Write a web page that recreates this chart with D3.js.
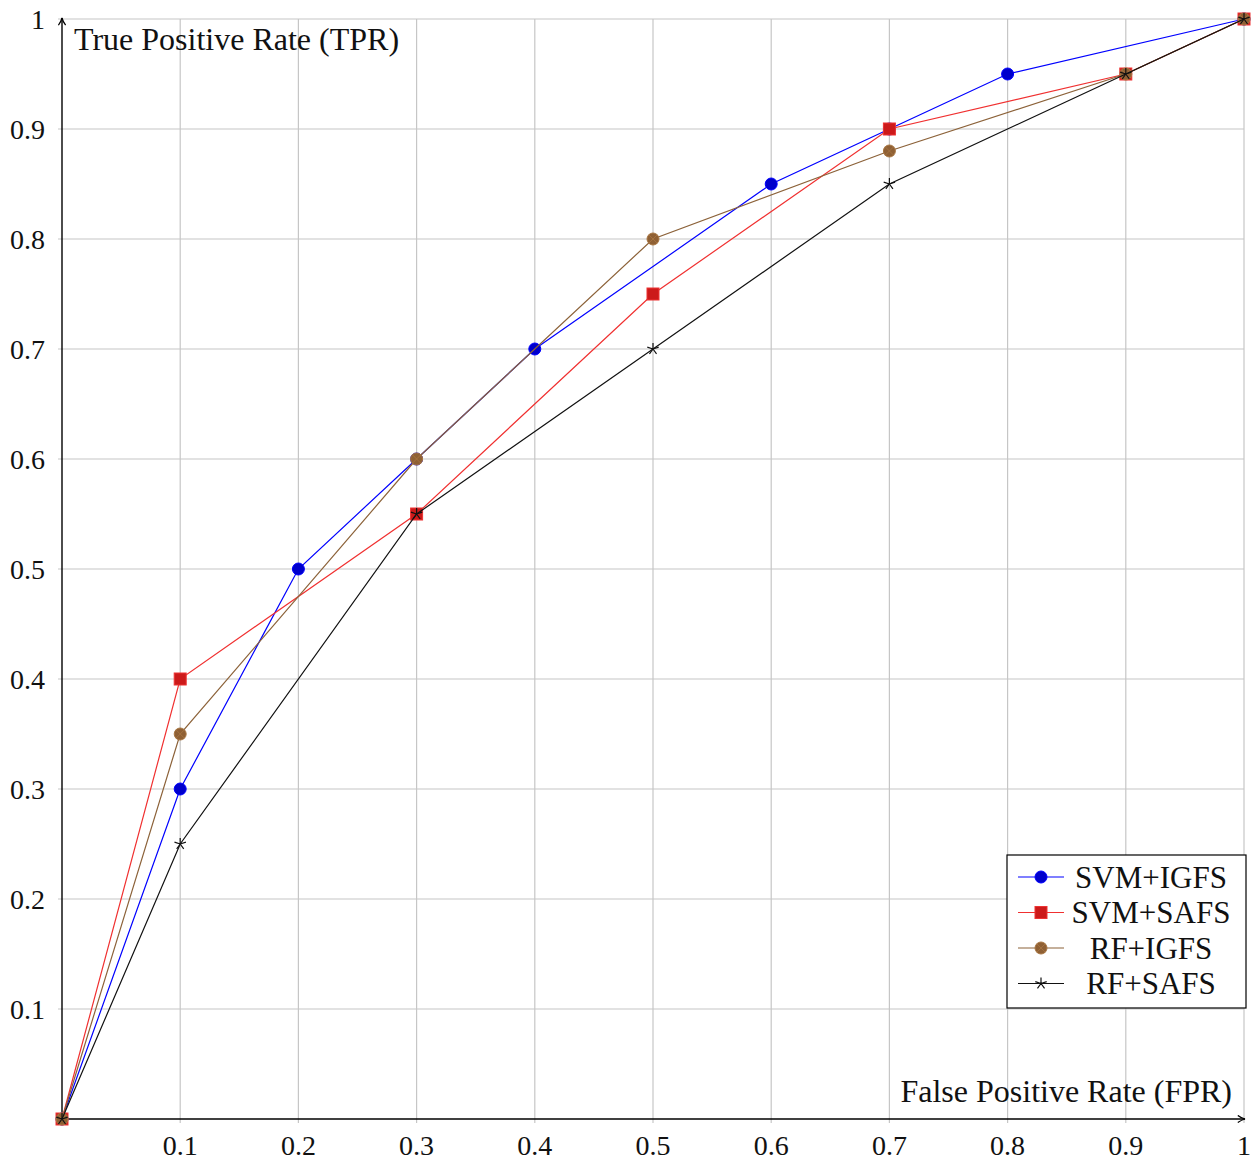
<!DOCTYPE html>
<html>
<style>
body { margin: 0; background: #fff; }
text { font-family: "Liberation Serif", "Times New Roman", serif; fill: #111; }
.grid line { stroke: #c6c6c6; stroke-width: 1.2px; }
</style>
<svg width="1255" height="1160"></svg>
<script src="https://cdn.jsdelivr.net/npm/d3@7"></script>
<script>
var ticks = [0.1, 0.2, 0.3, 0.4, 0.5, 0.6, 0.7, 0.8, 0.9, 1];

var svmIgfsX = [0, 0.1, 0.2, 0.3, 0.4, 0.6, 0.7, 0.8, 1];
var svmIgfsY = [0, 0.3, 0.5, 0.6, 0.7, 0.85, 0.9, 0.95, 1];
var svmSafsX = [0, 0.1, 0.3, 0.5, 0.7, 0.9, 1];
var svmSafsY = [0, 0.4, 0.55, 0.75, 0.9, 0.95, 1];
var rfIgfsX = [0, 0.1, 0.3, 0.5, 0.7, 0.9, 1];
var rfIgfsY = [0, 0.35, 0.6, 0.8, 0.88, 0.95, 1];
var rfSafsX = [0, 0.1, 0.3, 0.5, 0.7, 0.9, 1];
var rfSafsY = [0, 0.25, 0.55, 0.7, 0.85, 0.95, 1];

var series = [
  { name: "SVM+IGFS", xs: svmIgfsX, ys: svmIgfsY, color: "#0000ff", fill: "#0000cc", stroke: "#0000ff", mark: "circle" },
  { name: "SVM+SAFS", xs: svmSafsX, ys: svmSafsY, color: "#f03030", fill: "#cc1a1a", stroke: "#ee3333", mark: "square" },
  { name: "RF+IGFS", xs: rfIgfsX, ys: rfIgfsY, color: "#8c6239", fill: "#8f6034", stroke: "#a87642", mark: "otimes" },
  { name: "RF+SAFS", xs: rfSafsX, ys: rfSafsY, color: "#111111", fill: "none", stroke: "#111111", mark: "star" }
];

var svg = d3.select("svg");
var x = d3.scaleLinear().domain([0, 1]).range([62, 1244]);
var y = d3.scaleLinear().domain([0, 1]).range([1119, 19]);

// grid
var grid = svg.append("g").attr("class", "grid");
grid.selectAll("line.v").data(ticks).enter().append("line")
    .attr("x1", function(d) { return x(d); }).attr("x2", function(d) { return x(d); })
    .attr("y1", y(0) + 4).attr("y2", y(1));
grid.selectAll("line.h").data(ticks).enter().append("line")
    .attr("y1", function(d) { return y(d); }).attr("y2", function(d) { return y(d); })
    .attr("x1", x(0) - 4).attr("x2", x(1));

// tick labels
svg.append("g").selectAll("text").data(ticks).enter().append("text")
    .attr("x", function(d) { return x(d); })
    .attr("y", y(0) + 36)
    .attr("text-anchor", "middle")
    .style("font-size", "28px")
    .text(function(d) { return d3.format("~g")(d); });
svg.append("g").selectAll("text").data(ticks).enter().append("text")
    .attr("x", x(0) - 17)
    .attr("y", function(d) { return y(d); })
    .attr("dy", "0.35em")
    .attr("text-anchor", "end")
    .style("font-size", "28px")
    .text(function(d) { return d3.format("~g")(d); });

// axes with arrows
var defs = svg.append("defs");
defs.append("marker").attr("id", "arrow")
    .attr("viewBox", "0 0 10 10").attr("refX", 9).attr("refY", 5)
    .attr("markerWidth", 9).attr("markerHeight", 9).attr("orient", "auto")
    .attr("markerUnits", "userSpaceOnUse")
  .append("path").attr("d", "M1,1 Q5,4 9,5 Q5,6 1,9").attr("fill", "none")
    .attr("stroke", "#000").attr("stroke-width", 1.4);
svg.append("line").attr("x1", x(0)).attr("x2", x(1) + 1).attr("y1", y(0)).attr("y2", y(0))
    .attr("stroke", "#000").attr("stroke-width", 1.4).attr("marker-end", "url(#arrow)");
svg.append("line").attr("x1", x(0)).attr("x2", x(0)).attr("y1", y(0)).attr("y2", y(1) - 1)
    .attr("stroke", "#000").attr("stroke-width", 1.4).attr("marker-end", "url(#arrow)");

svg.append("text").attr("x", 74).attr("y", 50).style("font-size", "32px").text("True Positive Rate (TPR)");
svg.append("text").attr("x", 1232).attr("y", 1102).attr("text-anchor", "end").style("font-size", "32px").text("False Positive Rate (FPR)");

function drawMark(g, s) {
  if (s.mark === "circle") {
    g.append("circle").attr("r", 6).attr("fill", s.fill).attr("stroke", s.stroke).attr("stroke-width", 1);
  } else if (s.mark === "square") {
    g.append("rect").attr("x", -6).attr("y", -6).attr("width", 12).attr("height", 12)
        .attr("fill", s.fill).attr("stroke", s.stroke).attr("stroke-width", 1);
  } else if (s.mark === "otimes") {
    g.append("circle").attr("r", 6).attr("fill", s.fill).attr("stroke", s.stroke).attr("stroke-width", 1);
    var k = 6 * Math.SQRT1_2;
    g.append("path").attr("d", "M" + (-k) + "," + (-k) + "L" + k + "," + k + "M" + (-k) + "," + k + "L" + k + "," + (-k))
        .attr("stroke", s.stroke).attr("stroke-width", 0.8);
  } else {
    var d = "";
    for (var i = 0; i < 5; i++) {
      var a = -Math.PI / 2 + i * 2 * Math.PI / 5;
      d += "M0,0L" + (6 * Math.cos(a)).toFixed(2) + "," + (6 * Math.sin(a)).toFixed(2);
    }
    g.append("path").attr("d", d).attr("stroke", s.stroke).attr("stroke-width", 1.2).attr("fill", "none");
  }
}

var line = d3.line().x(function(d) { return x(d[0]); }).y(function(d) { return y(d[1]); });

series.forEach(function(s) {
  var pts = s.xs.map(function(v, i) { return [v, s.ys[i]]; });
  svg.append("path").datum(pts).attr("d", line)
      .attr("fill", "none").attr("stroke", s.color).attr("stroke-width", 1.2);
  svg.append("g").selectAll("g").data(pts).enter().append("g")
      .attr("transform", function(d) { return "translate(" + x(d[0]) + "," + y(d[1]) + ")"; })
      .each(function() { drawMark(d3.select(this), s); });
});

// legend
var lg = svg.append("g").attr("transform", "translate(1007,855)");
lg.append("rect").attr("width", 239).attr("height", 153).attr("fill", "#fff")
    .attr("stroke", "#000").attr("stroke-width", 1.2);
series.forEach(function(s, i) {
  var row = lg.append("g").attr("transform", "translate(0," + (22 + i * 35.5) + ")");
  row.append("line").attr("x1", 11).attr("x2", 57).attr("stroke", s.color).attr("stroke-width", 1.2);
  var m = row.append("g").attr("transform", "translate(34,0)");
  drawMark(m, s);
  row.append("text").attr("x", 144).attr("dy", "0.35em").attr("text-anchor", "middle")
      .style("font-size", "31px").text(s.name);
});
</script>
</html>
